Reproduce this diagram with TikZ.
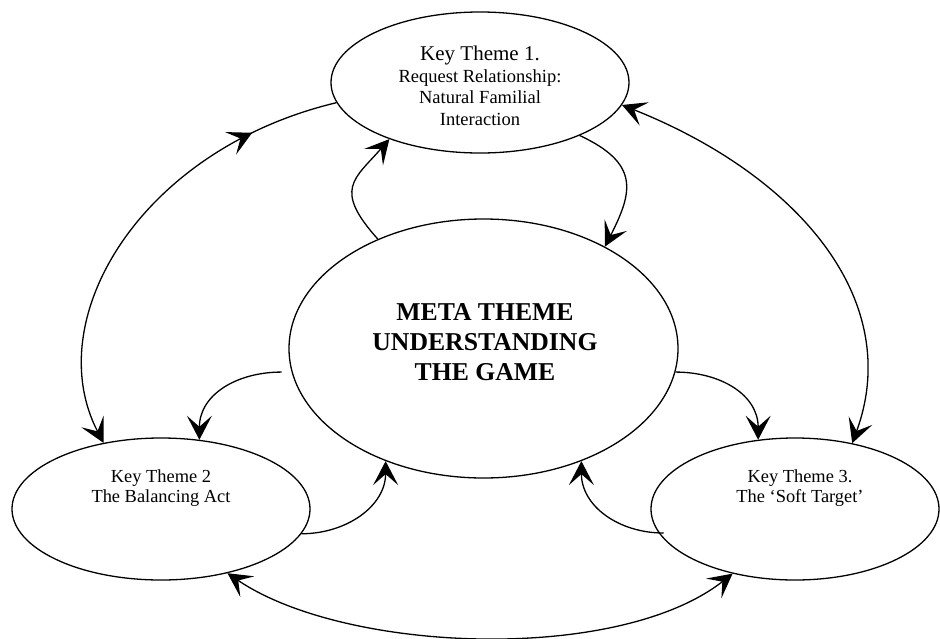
\documentclass[tikz,border=0pt]{standalone}
\usepackage{fontspec}
\setmainfont{Liberation Serif}
\usetikzlibrary{arrows.meta,shapes.geometric,decorations.markings}

\begin{document}
\begin{tikzpicture}[x=1pt,y=-1pt,
  >={Stealth[length=24pt,width=25pt,inset=11pt]},
  theme/.style={draw, ellipse, line width=1.3pt, inner sep=0pt},
  link/.style={line width=1.3pt},
  label/.style={align=center, inner sep=0pt},
  midarrow/.style={postaction={decorate},
    decoration={markings, mark=at position #1 with {\arrow{>}}}}
]
\useasboundingbox (0,0) rectangle (940,638);

% the four theme ellipses
\node[theme, minimum width=298pt, minimum height=141pt] (kt1) at (480,82.5) {};
\node[theme, minimum width=389pt, minimum height=259pt] (meta) at (483.5,348.5) {};
\node[theme, minimum width=298pt, minimum height=142pt] (kt2) at (161,509) {};
\node[theme, minimum width=288pt, minimum height=142pt] (kt3) at (795,509) {};

% their texts
\node[label, font=\fontsize{18.5}{21.5}\selectfont] (kt1txt) at (480,86)
  {{\fontsize{21}{21.5}\selectfont Key Theme 1.}\\Request Relationship:\\Natural Familial\\Interaction};
\node[label, font=\fontsize{25.7}{30}\selectfont\bfseries] (metatxt) at (485,342)
  {META THEME\\UNDERSTANDING\\THE GAME};
\node[label, font=\fontsize{18.4}{20}\selectfont] (kt2txt) at (161,488)
  {Key Theme 2\\The Balancing Act};
\node[label, font=\fontsize{18.4}{20}\selectfont] (kt3txt) at (800,488)
  {Key Theme 3.\\The ‘Soft Target’};

% outer links between the key themes
\draw[link,<-,midarrow=0.81] (kt2.131) .. controls +(-64,-123) and +(-197,47) .. (kt1.188);
\draw[link,<->] (kt1.-9) .. controls +(178,71) and +(52,-142) .. (kt3.49);
\draw[link,<->] (kt2.-44) .. controls +(118,80) and +(-115,90) .. (kt3.226);

% links between the meta theme and each key theme
\draw[link,->] (meta.134) .. controls +(-45,-50) and +(-35,40) .. (kt1.212);
\draw[link,->] (kt1.-28) .. controls +(60,28) and +(28,-55) .. (meta.40);
\draw[link,->] ([xshift=-10pt]meta.187) .. controls +(-45,0) and +(0,-45) .. (kt2.61);
\draw[link,->] (kt2.-10) .. controls +(45,0) and +(0,45) .. (meta.229);
\draw[link,->] (meta.-7) .. controls +(45,0) and +(0,-45) .. (kt3.118);
\draw[link,->] ([xshift=5pt]kt3.190) .. controls +(-45,0) and +(0,45) .. (meta.-49);
\end{tikzpicture}
\end{document}
